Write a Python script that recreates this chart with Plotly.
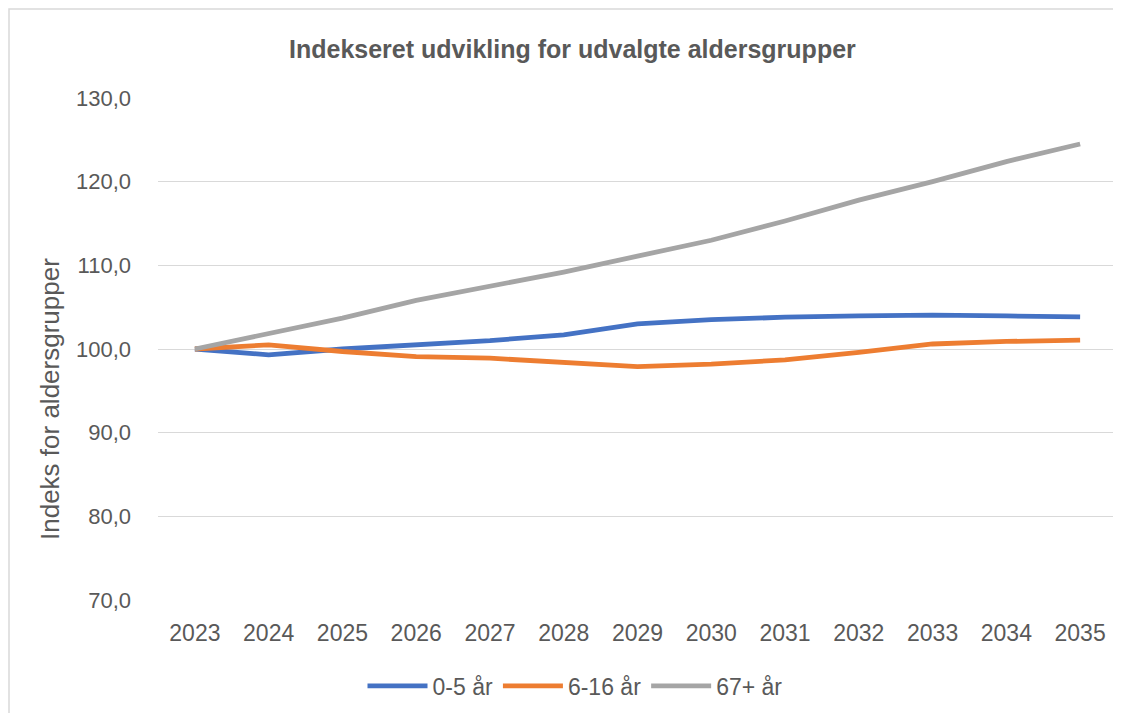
import plotly.graph_objects as go

years = [str(y) for y in range(2023, 2036)]
s_0_5 = [100.0, 99.3, 100.0, 100.5, 101.0, 101.7, 103.0, 103.5, 103.8, 103.95, 104.05, 103.95, 103.85]
s_6_16 = [100.0, 100.5, 99.7, 99.1, 98.9, 98.4, 97.9, 98.2, 98.7, 99.6, 100.6, 100.9, 101.05]
s_67 = [100.0, 101.8, 103.7, 105.8, 107.5, 109.2, 111.1, 113.0, 115.3, 117.8, 120.0, 122.4, 124.5]
names = ["0-5 år", "6-16 år", "67+ år"]
colors = ["#4472C4", "#ED7D31", "#A5A5A5"]

fig = go.Figure()
for name, vals, col in zip(names, [s_0_5, s_6_16, s_67], colors):
    fig.add_trace(go.Scatter(x=years, y=vals, name=name, mode="lines",
                             line=dict(color=col, width=4.8)))

txt = "#595959"
# plot area in figure coords: x 150..1109, y 90..592
L, R, T, B = 150, 1109, 90, 592
W, H = 1121, 713
pw, ph = R - L, B - T

def px(x):
    return (x - L) / pw

def py(y):
    return (B - y) / ph

fig.update_layout(
    width=W, height=H,
    margin=dict(l=L, r=W - R, t=T, b=H - B, autoexpand=False),
    paper_bgcolor="white", plot_bgcolor="white",
    separators=",.",
    font=dict(family="Liberation Sans", color=txt),
    xaxis=dict(type="category", showgrid=False, showline=False, ticks="",
               tickfont=dict(size=23, color=txt), range=[-0.5, 12.5],
               ticklabelstandoff=17),
    yaxis=dict(range=[70, 130], dtick=10, tickformat=".1f",
               gridcolor="#D9D9D9", gridwidth=1.3, zeroline=False,
               tickfont=dict(size=22, color=txt), ticklabelstandoff=26),
    legend=dict(orientation="h", x=px(567), xanchor="center", y=py(678), yanchor="middle",
                font=dict(size=23, color=txt), itemwidth=60, tracegroupgap=0),
    annotations=[
        dict(text="<b>Indekseret udvikling for udvalgte aldersgrupper</b>",
             xref="paper", yref="paper", x=px(564), y=py(41),
             xanchor="center", yanchor="middle", showarrow=False,
             font=dict(size=25, color=txt)),
        dict(text="Indeks for aldersgrupper", textangle=-90,
             xref="paper", yref="paper", x=px(42), y=py(391),
             xanchor="center", yanchor="middle", showarrow=False,
             font=dict(size=26, color=txt)),
    ],
    shapes=[dict(type="rect", xref="paper", yref="paper",
                 x0=px(1), x1=px(1140), y0=py(740), y1=py(1),
                 line=dict(color="#D9D9D9", width=1.5), fillcolor="rgba(0,0,0,0)",
                 layer="below")],
)

fig.write_html("out.html")
